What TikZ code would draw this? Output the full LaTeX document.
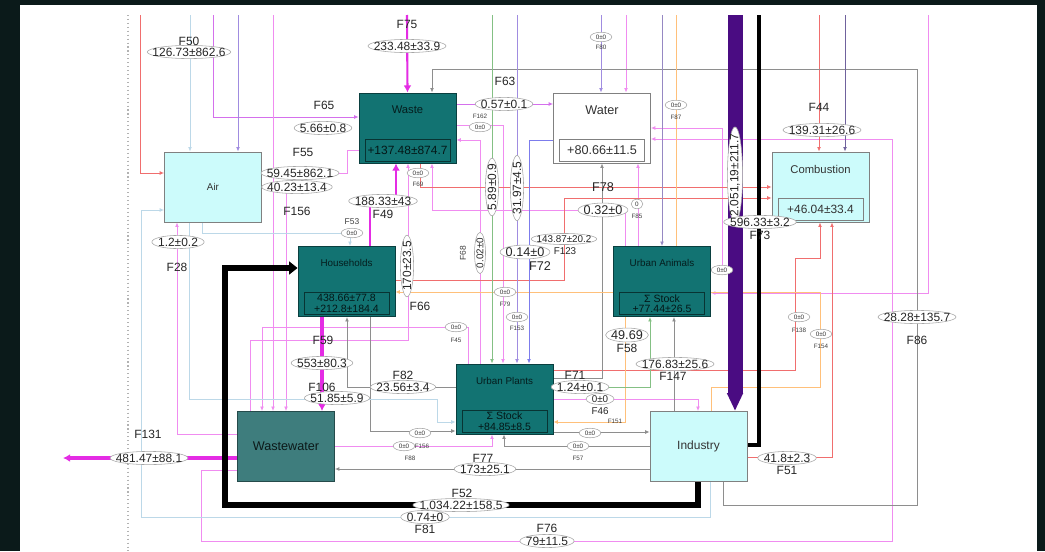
\documentclass[tikz,border=0pt]{standalone}
\usepackage{fontspec}
\setmainfont{Liberation Sans}
\usetikzlibrary{arrows.meta, shapes.geometric, backgrounds}
\definecolor{frame}{HTML}{0B1A1A}
\definecolor{procteal}{HTML}{127372}
\definecolor{wwteal}{HTML}{3E7D7D}
\definecolor{envcyan}{HTML}{CCFBFB}
\definecolor{lnpink}{HTML}{F08CF0}
\definecolor{lnviolet}{HTML}{D470EC}
\definecolor{lnmag}{HTML}{E42CE4}
\definecolor{lnred}{HTML}{F06E6E}
\definecolor{lngray}{HTML}{8E8E8E}
\definecolor{lnblue}{HTML}{BCD8E8}
\definecolor{lnlav}{HTML}{A08CE0}
\definecolor{lnindigo}{HTML}{7C7CEC}
\definecolor{lnorange}{HTML}{FFC07A}
\definecolor{lngreen}{HTML}{84C084}
\definecolor{barpurple}{HTML}{4A0C82}
\newcommand{\fsz}[1]{\fontsize{#1}{#1}\selectfont}
\tikzset{
  box/.style={minimum width=2.43cm, minimum height=1.76cm, inner sep=0pt},
  proc/.style={box, draw=procteal!55!black, fill=procteal, text=procteal!25!black},
  env/.style={box, draw=gray, fill=envcyan, text=black!80},
  stk/.style={draw=#1, minimum width=2.13cm, minimum height=0.56cm, inner sep=0pt, align=center},
  ttl/.style={font=\fsz{8}},
  val/.style={ellipse, draw=gray!70, fill=white, inner xsep=#1, inner ysep=0.3pt,
              font=\fsz{8.5}, text=black!85},
  val/.default=-3pt,
  tval/.style={ellipse, draw=gray!70, fill=white, inner xsep=1.7pt, inner ysep=0.8pt,
               font=\fsz{4.5}, text=black!80},
  fname/.style={font=\fsz{8.5}, text=black!85},
  tname/.style={font=\fsz{4.5}, text=black!75},
  flow/.style={-{Latex[length=3.2pt,width=2.8pt]}, line width=0.6pt, draw=#1},
  mflow/.style={-{Latex[length=5pt,width=5.5pt]}, line width=#1, draw=lnmag},
}

\begin{document}
\begin{tikzpicture}[x=0.025cm, y=-0.025cm]
  % processes
  \node[env] (air) at (213,187) {};
  \node[proc] (waste) at (407.5,128) {};
  \node[box, draw=gray, fill=white] (water) at (602,128) {};
  \node[env] (comb) at (820.5,187) {};
  \node[proc] (hh) at (346.5,281.5) {};
  \node[proc] (uanim) at (662,281.5) {};
  \node[proc] (uplant) at (504.5,399) {};
  \node[box, draw=wwteal!60!black, fill=wwteal, text=wwteal!20!black, font=\fsz{9}] (ww) at (286,446.5) {Wastewater};
  \node[env, font=\fsz{8.5}] (ind) at (698.5,446.5) {Industry};
  \node[ttl, font=\fsz{7}, text=black!80] at (air) {Air};
  \node[ttl, text=procteal!25!black] at ([yshift=-0.43cm]waste.north) {Waste};
  \node[ttl, font=\fsz{9}, text=black!80] at ([yshift=-0.43cm]water.north) {Water};
  \node[ttl, text=black!80] at ([yshift=-0.45cm]comb.north) {Combustion};
  \node[ttl, font=\fsz{7}, text=procteal!25!black] at ([yshift=-0.43cm]hh.north) {Households};
  \node[ttl, font=\fsz{7}, text=procteal!25!black] at ([yshift=-0.43cm]uanim.north) {Urban Animals};
  \node[ttl, font=\fsz{7}, text=procteal!25!black] at ([yshift=-0.43cm]uplant.north) {Urban Plants};
  \node[stk=procteal!45!black, anchor=south, font=\fsz{8.5}, text=procteal!20!black] at ([yshift=0.05cm]waste.south) {+137.48±874.7};
  \node[stk=gray, anchor=south, font=\fsz{9}, text=black!80] at ([yshift=0.05cm]water.south) {+80.66±11.5};
  \node[stk=gray, anchor=south, font=\fsz{8.5}, text=black!80] at ([yshift=0.05cm]comb.south) {+46.04±33.4};
  \node[stk=procteal!45!black, anchor=south, font=\fsz{7.5}, text=procteal!20!black] at ([yshift=0.05cm]hh.south) {438.66±77.8\\+212.8±184.4};
  \node[stk=procteal!45!black, anchor=south, font=\fsz{7.5}, text=procteal!20!black] at ([yshift=0.05cm]uanim.south) {Σ Stock\\+77.44±26.5};
  \node[stk=procteal!45!black, anchor=south, font=\fsz{7.5}, text=procteal!20!black] at ([yshift=0.05cm]uplant.south) {Σ Stock\\+84.85±8.5};
  \foreach \x in {140,190,213,238,273,407,492,517,601,626,662,676,735,759,819,845,928}
    \coordinate (t\x) at (\x,15);
  \coordinate (out131) at (63,458);

  \begin{scope}[on background layer]
    \fill[frame] (0,0) rectangle (1045,551);
    \fill[white] (20,5) rectangle (1037,551);
    \draw[gray!60, dotted, line width=0.8pt] (128,15) -- (128,551);
    % thin flows
    \draw[flow=lnred] (t140) |- (air.west |- 0,173);
    \draw[flow=lnblue] (t190) -- (air.north -| 190,0);
    \draw[flow=lnviolet] (t213) |- (waste.west |- 0,117);
    \draw[flow=lnlav] (t238) -- (air.north -| 238,0);
    \draw[flow=lnpink] (t273) -- (ww.north -| 273,0);
    \draw[flow=lnpink] (waste.west |- 0,150) -| (347,173) -- (air.east |- 0,173);
    \draw[flow=lnpink] (air.east |- 0,187) -| (ww.north -| 286,0);
    \draw[flow=lnpink] (ww.west |- 0,434) -| (air.south -| 177,0);
    \draw[flow=lnpink] (ww.north -| 250,0) |- (408,340) -- (waste.south -| 408,0);
    \draw[flow=lnpink] (uplant.north -| 480,0) |- (waste.east |- 0,140);
    \draw[flow=lnpink] (waste.east |- 0,125) -| (uplant.north -| 503,0);
    \draw[flow=lnviolet] (waste.east |- 0,104) -- (water.west |- 0,104);
    \draw[flow=lnpink] (t626) -- (water.north -| 626,0);
    \draw[flow=lnpink] (ww.west |- 0,470) -| (201,541) -| (892,139) -- (water.east |- 0,139);
    \draw[flow=lnpink] (uanim.east |- 0,270) -| (722,128) -- (water.east |- 0,128);
    \draw[flow=lnpink] (t928) |- (uanim.east |- 0,293);
    \draw[flow=lnpink] (uanim.north -| 638,0) -- (water.south -| 638,0);
    \draw[flow=lnpink] (uanim.north -| 625,0) |- (432,210) -- (waste.south -| 432,0);
    \draw[flow=lnpink] (uplant.north -| 468,0) |- (262,327) -- (ww.north -| 262,0);
    \draw[flow=lnpink] (uplant.east |- 0,399) -| (ind.north -| 698,0);
    \draw[flow=lnpink] (ww.east |- 0,446) -| (uplant.south -| 492,0);
    \draw[flow=lnred] (waste.south -| 420,0) |- (comb.west |- 0,187);
    \draw[flow=lnred] (hh.east |- 0,280) -| (564,198) -- (comb.west |- 0,198);
    \draw[flow=lnred] (t819) -- (comb.north -| 819,0);
    \draw[flow=lnred] (uplant.east |- 0,370) -| (795,258) -| (comb.south -| 820,0);
    \draw[flow=lnred] (ind.east |- 0,457) -| (comb.south -| 832,0);
    \draw[flow=lngray] (ind.south -| 723,0) |- (917,505) |- (432,69) -- (waste.north -| 432,0);
    \draw[flow=lngray] (ind.west |- 0,469) -- (ww.east |- 0,469);
    \draw[flow=lngray] (ind.west |- 0,446) -| (uplant.south -| 504,0);
    \draw[flow=lngray] (uplant.east |- 0,432) -- (ind.west |- 0,432);
    \draw[flow=lngray] (uplant.west |- 0,387) -| (hh.south -| 347,0);
    \draw[flow=lngray] (hh.south -| 370,0) |- (uplant.west |- 0,431);
    \draw[flow=lngray] (uplant.east |- 0,378) -| (water.south -| 602,0);
    \draw[flow=lngray] (ind.north -| 674,0) -- (uanim.south -| 674,0);
    \draw[flow=lnlav!70!gray] (t662) -- (uanim.north -| 662,0);
    \draw[lnorange, line width=0.6pt] (t676) -- (uanim.north -| 676,0);
    \draw[flow=lnorange] (ind.north -| 711,0) |- (820,387) |- (hh.east |- 0,292);
    \draw[flow=lnorange] (uanim.south -| 625,0) |- (uplant.east |- 0,422);
    \draw[flow=lnlav] (t517) -- (uplant.north -| 517,0);
    \draw[flow=lnindigo] (water.west |- 0,140) -| (uplant.north -| 529,0);
    \draw[flow=lnlav] (t601) -- (water.north -| 601,0);
    \draw[flow=lnlav!70!black] (t845) -- (comb.north -| 845,0);
    \draw[flow=lngreen] (t492) -- (uplant.north -| 492,0);
    \draw[flow=lngreen] (uplant.east |- 0,387) -| (uanim.south -| 650,0);
    \draw[flow=lnblue] (ind.south -| 710,0) |- (141,517) |- (air.west |- 0,210);
    \draw[flow=lnblue] (air.south -| 202,0) |- (350,233) -- (hh.north -| 350,0);
    \draw[flow=lnblue] (air.south -| 189,0) |- (437,399) |- (uplant.west |- 0,422);
    % main flows
    \draw[mflow=1.5pt] (t407) -- (waste.north);
    \draw[mflow=1.6pt] (hh.north -| 370,0) |- (396,201) -- (waste.south -| 396,0);
    \draw[mflow=2.4pt] (hh.south -| 322,0) -- (ww.north -| 322,0);
    \draw[mflow=2.4pt] (ww.west |- 0,458) -- (out131);
    \draw[line width=4pt, -{Triangle[length=6pt,width=9pt]}] (ind.south -| 698,0) |- (225,505) |- (hh.west |- 0,268);
    \draw[line width=3pt] (t759) |- (ind.east |- 0,445);
    \draw[barpurple, line width=0.375cm, -{Triangle[length=0.45cm,width=0.375cm]}] (t735) -- (ind.north -| 735,0);
  \end{scope}

  % flow labels
  \node[fname] at (189,41) {F50};
  \node[val=-5pt] at (189,52) {126.73±862.6};
  \node[fname] at (407,24) {F75};
  \node[val=-4pt] at (407,46) {233.48±33.9};
  \node[fname] at (324,105) {F65};
  \node[val=-2pt] at (323,128) {5.66±0.8};
  \node[fname] at (303,152) {F55};
  \node[val=-4pt] at (300,173) {59.45±862.1};
  \node[val=-3.5pt] at (297,187) {40.23±13.4};
  \node[fname] at (297,211) {F156};
  \node[val=-1pt] at (178,242) {1.2±0.2};
  \node[fname] at (177,267) {F28};
  \node[tname, font=\fsz{6}] at (352,222) {F53};
  \node[tval] at (352,233) {0±0};
  \node[val=-2.8pt] at (383,201) {188.33±43};
  \node[fname] at (383,214) {F49};
  \node[tval] at (418,173) {0±0};
  \node[tname] at (418,184) {F69};
  \node[fname] at (505,81) {F63};
  \node[val=-2pt] at (504,104) {0.57±0.1};
  \node[tname] at (480,116) {F162};
  \node[tval] at (480,127) {0±0};
  \node[val=-2pt, rotate=90] at (492,187) {5.89±0.9};
  \node[val=-2.5pt, rotate=90] at (517,188) {31.97±4.5};
  \node[val=-0.3pt, rotate=90, font=\fsz{7}] at (480,253) {0.02±0};
  \node[tname, rotate=90, font=\fsz{6}] at (463,253) {F68};
  \node[val=-2.2pt, rotate=90] at (407,266) {170±23.5};
  \node[fname] at (420,306) {F66};
  \node[tval] at (601,37) {0±0};
  \node[tname] at (601,47) {F80};
  \node[tval] at (676,105) {0±0};
  \node[tname] at (676,117) {F87};
  \node[fname, font=\fsz{9}] at (603,187) {F78};
  \node[val=-1.2pt, font=\fsz{9}] at (603,210) {0.32±0};
  \node[tval] at (637,204) {0};
  \node[tname] at (637,216) {F85};
  \node[val=-3pt, font=\fsz{7}] at (564,239) {143.87±20.2};
  \node[val=-1.2pt, font=\fsz{9}] at (525,252) {0.14±0};
  \node[fname, font=\fsz{7}] at (565,251) {F123};
  \node[fname, font=\fsz{9}] at (540,266) {F72};
  \node[fname] at (819,107) {F44};
  \node[val=-4pt] at (822,130) {139.31±26.6};
  \node[val=-5pt, rotate=90, fill=white] at (735,175) {2.051,19±211.7};
  \node[val=-3pt] at (760,222) {596.33±3.2};
  \node[fname] at (760,235) {F73};
  \node[tval] at (722,270) {0±0};
  \node[tval] at (799,317) {0±0};
  \node[tname] at (799,330) {F138};
  \node[tval] at (821,334) {0±0};
  \node[tname] at (821,346) {F154};
  \node[val=-4pt] at (917,317) {28.28±135.7};
  \node[fname] at (917,340) {F86};
  \node[tval] at (505,292) {0±0};
  \node[tname] at (505,304) {F79};
  \node[tval] at (517,317) {0±0};
  \node[tname] at (517,328) {F153};
  \node[tval] at (456,327) {0±0};
  \node[tname] at (456,340) {F45};
  \node[val=-0.5pt, font=\fsz{9}] at (627,335) {49.69};
  \node[fname] at (627,348) {F58};
  \node[val=-4pt] at (675,364) {176.83±25.6};
  \node[fname] at (673,376) {F147};
  \node[fname] at (323,340) {F59};
  \node[val=-2.2pt] at (322,363) {553±80.3};
  \node[fname] at (322,387) {F106};
  \node[val=-2.5pt] at (337,398) {51.85±5.9};
  \node[fname] at (403,375) {F82};
  \node[val=-2.5pt] at (403,387) {23.56±3.4};
  \node[fname] at (575,375) {F71};
  \node[val=-2pt] at (580,387) {1.24±0.1};
  \node[val=1.2pt, font=\fsz{7}] at (600,399) {0±0};
  \node[fname, font=\fsz{7}] at (600,411) {F46};
  \node[tname] at (615,421) {F151};
  \node[tval] at (420,433) {0±0};
  \node[tval] at (404,446) {0±0};
  \node[tname] at (422,446) {F156};
  \node[tname] at (410,458) {F88};
  \node[tval] at (590,433) {0±0};
  \node[tval] at (578,446) {0±0};
  \node[tname] at (578,458) {F57};
  \node[fname] at (483,458) {F77};
  \node[val=-2.2pt] at (485,469) {173±25.1};
  \node[fname] at (462,493) {F52};
  \node[val=-5.3pt] at (461,505) {1.034.22±158.5};
  \node[val=-0.8pt] at (425,517) {0.74±0};
  \node[fname] at (425,529) {F81};
  \node[fname] at (547,528) {F76};
  \node[val=-1.4pt] at (547,541) {79±11.5};
  \node[fname] at (148,434) {F131};
  \node[val=-4pt] at (149,458) {481.47±88.1};
  \node[val=-1.8pt] at (787,458) {41.8±2.3};
  \node[fname] at (787,470) {F51};
\end{tikzpicture}
\end{document}
